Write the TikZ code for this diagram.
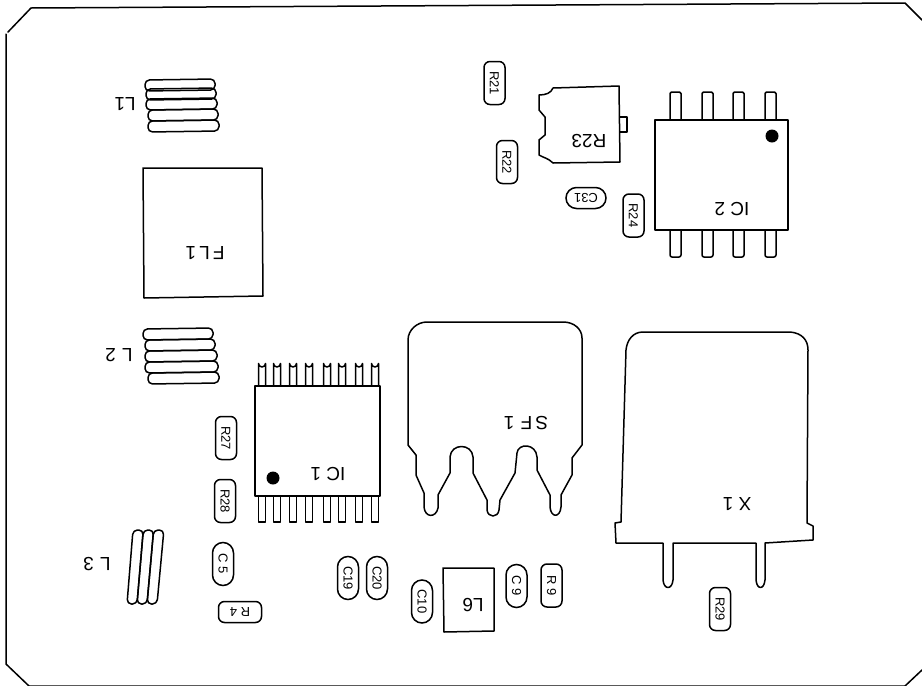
\documentclass[tikz,border=0pt]{standalone}
\usepackage{fontspec}
\setmainfont{Liberation Sans}
\tikzset{
 part/.style={draw=black,line width=1.5pt,line join=round,line cap=round,fill=none},
 lab/.style={inner sep=0pt,font=\fontsize{19}{19}\selectfont},
 chipw/.style={draw=black,line width=1.5pt,rounded corners=6pt,inner sep=0pt,minimum width=43pt,minimum height=21pt,font=\fontsize{13}{13}\selectfont},
 capw/.style={chipw,rounded corners=10.5pt},
}
\begin{document}
\begin{tikzpicture}[x=1pt,y=-1pt]
\useasboundingbox (0,0) rectangle (922,686);
% board outline
\draw[part] (922,20) -- (905,3) -- (31,8) -- (8,32);
\draw[part] (6,34) -- (6,664) -- (29,686) -- (905,686) -- (922,670);
% L1, L2
\foreach \a/\b/\c in {145/215/85,146/216/94,146/217/104,148/218/115,148/219/126}{
 \draw[part,rounded corners=4.5pt] (\a,\c-5) -- (\b,\c-6) -- (\b,\c+5) -- (\a,\c+6) -- cycle;
}
\foreach \a/\b/\c in {143/213/334,145/215/345,145/217/356,145/218/367,148/219/378}{
 \draw[part,rounded corners=4.5pt] (\a,\c-5) -- (\b,\c-6) -- (\b,\c+5) -- (\a,\c+6) -- cycle;
}
% L3
\foreach \a/\b in {133/127,143.3/137,153.6/147}{
 \draw[part,rounded corners=4.5pt] (\a,530) -- (\a+10.3,530) -- (\b+10,604) -- (\b,604) -- cycle;
}
\node[lab,rotate=180] (L1) at (125,104) {L1};
\node[lab,rotate=180] (L2) at (119,355) {L\,\,2};
\node[lab,rotate=180] (L3) at (97,564) {L\,\,3};
% FL1
\draw[part] (143,168) -- (262,168) -- (263,296) -- (144,298) -- cycle;
\node[lab,rotate=180] (FL1) at (205,253) {F\,L\,1};
% IC1
\draw[part] (255,386) -- (380,386) -- (380,496) -- (255,496) -- cycle;
\foreach \x in {262,277,293,309,327,342,359,375}{
 \draw[part] (\x-3.5,386) -- (\x-3.5,363.5) arc[start angle=180,end angle=0,radius=3.5] -- (\x+3.5,386);
 \draw[part] (\x-3.5,496) -- (\x-3.5,522) -- (\x+3.5,522) -- (\x+3.5,496);
}
\fill (273,478) circle (6.5pt);
\node[lab,rotate=180] (IC1) at (328,474) {IC 1};
% IC2
\draw[part] (655,120) -- (788,120) -- (788,230) -- (655,230) -- cycle;
\foreach \x in {675.5,707.5,738.5,770.5}{
 \draw[part,rounded corners=1.5pt] (\x-5.5,120) -- (\x-5.5,92) -- (\x+5.5,92) -- (\x+5.5,120);
 \draw[part,rounded corners=2pt] (\x-5.5,230) -- (\x-5.5,257) -- (\x+5.5,257) -- (\x+5.5,230);
}
\fill (772,136) circle (6.5pt);
\node[lab,rotate=180] (IC2) at (732,209) {IC 2};
% R23
\draw[part] (539,95) .. controls (546,95) and (551,93) .. (553,88) -- (619,86) -- (620,162) -- (553,163) .. controls (548,158) and (544,158) .. (539,155) -- (539,140) -- (545,135) -- (545,117) -- (539,110) -- cycle;
\draw[part] (620,117) -- (627,117) -- (627,132) -- (620,132);
\node[lab,rotate=180] (R23) at (589,141) {R23};
% SF1
\draw[part] (408,340) .. controls (408,330) and (417,322) .. (427,322) -- (563,322) .. controls (574,322) and (582,329) .. (582,338) -- (582,445) -- (572,458) -- (572,475) -- (561,495) -- (561,507) .. controls (560,518) and (551,518) .. (550,507) -- (550,495) -- (537,470) -- (537,457) .. controls (536,443) and (518,443) .. (517,453) -- (515,473) -- (500,500) -- (499,510) .. controls (498,518) and (488,518) .. (487,510) -- (487,500) -- (473,473) -- (473,457) .. controls (472,443) and (451,443) .. (450,457) -- (450,473) -- (438,495) -- (438,508) .. controls (436,518) and (425,518) .. (424,507) -- (424,493) -- (416,475) -- (416,455) -- (408,445) -- cycle;
\node[lab,rotate=180] (SF1) at (526,423) {S\,F\,\,1};
% X1
\draw[part] (621,522) -- (626,350) .. controls (627,340) and (633,332) .. (643,332) -- (790,332) .. controls (802,333) and (808,340) .. (808,350) -- (807,523) -- (813,526) -- (813,540) -- (765,543) -- (765,580) .. controls (764,590) and (757,590) .. (756,580) -- (756,543) -- (673,543) -- (673,580) .. controls (672,590) and (664,590) .. (663,580) -- (663,543) -- (616,543) -- (615,523) -- cycle;
\node[lab,rotate=180] (X1) at (737,504) {X 1};
% L6
\draw[part] (443,568) -- (494,568) -- (494,631) -- (444,632) -- cycle;
\node[lab,rotate=180] (L6) at (473,605) {L6};
% small parts
\node[chipw,rotate=-90] (R21) at (494.5,83) {R21};
\node[chipw,rotate=-90] (R22) at (507,162) {R22};
\node[chipw,rotate=-90] (R24) at (633.5,215.5) {R24};
\node[capw,rotate=180,minimum width=40pt] (C31) at (586,198) {C31};
\node[chipw,rotate=-90] (R27) at (226,438) {R27};
\node[chipw,rotate=-90] (R28) at (225,501) {R28};
\node[capw,rotate=-90] (C5) at (223,564) {C 5};
\node[chipw,rotate=180] (R4) at (240,612) {R 4};
\node[capw,rotate=-90] (C19) at (348,578) {C19};
\node[capw,rotate=-90] (C20) at (377,578) {C20};
\node[capw,rotate=-90] (C10) at (422,601.5) {C10};
\node[capw,rotate=-90] (C9) at (516.5,586) {C 9};
\node[chipw,rotate=-90] (R9) at (551.5,585.5) {R 9};
\node[chipw,rotate=-90] (R29) at (720,609) {R29};
\end{tikzpicture}
\end{document}
